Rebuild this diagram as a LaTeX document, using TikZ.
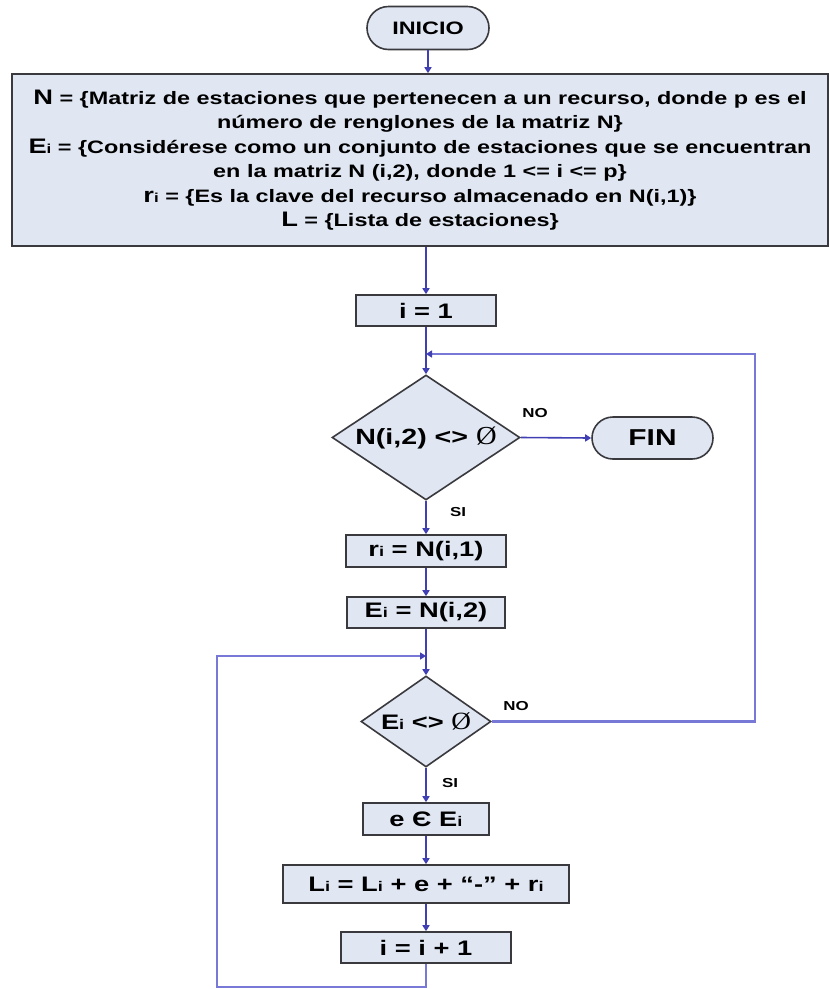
\documentclass[tikz,border=0pt]{standalone}
\usepackage{fontspec}
\setmainfont{Liberation Sans}[FakeStretch=1.3]
\newfontfamily\slashfont{Liberation Serif}[FakeStretch=1.1,Scale=1.18]
\usetikzlibrary{arrows.meta,shapes.geometric,shapes.misc}

\definecolor{boxfill}{RGB}{224,231,243}
\definecolor{edge}{RGB}{58,58,62}
\definecolor{flowc}{RGB}{64,64,180}
\definecolor{loopc}{RGB}{120,120,214}

% small index letter set on the baseline
\newcommand{\subi}[1]{{\fontsize{#1}{#1}\selectfont i}}
% enlarged leading symbol in the definitions block
\newcommand{\mayor}[1]{{\fontsize{21}{24.5}\selectfont #1}}
% empty-set sign
\newcommand{\vacio}{{\slashfont\mdseries Ø}}

\begin{document}
\begin{tikzpicture}[x=1pt,y=-1pt,
  txt/.style={font=\bfseries\fontsize{21}{24}\selectfont},
  stepbox/.style={draw=edge, line width=1.6pt, fill=boxfill, inner sep=0pt, txt},
  term/.style={rounded rectangle, draw=edge, line width=1.6pt, fill=boxfill, inner sep=0pt},
  decision/.style={diamond, draw=edge, line width=1.6pt, fill=boxfill, inner sep=1pt, txt},
  tip/.style={-{Triangle[length=6pt,width=7pt,color=flowc]}},
  flow/.style={draw=flowc, line width=1.6pt, tip},
  back/.style={draw=loopc, line width=2.2pt, tip},
  tag/.style={font=\bfseries\fontsize{13}{13}\selectfont, inner sep=0pt}]

\useasboundingbox (0,0) rectangle (830,989);
\fill[white] (0,0) rectangle (830,989);

% terminals
\node[term, minimum width=122pt, minimum height=43pt,
      font=\bfseries\fontsize{18}{18}\selectfont] (ini) at (428,28) {INICIO};
\node[term, minimum width=121pt, minimum height=42pt,
      font=\bfseries\fontsize{23}{23}\selectfont] (fin) at (652.5,438) {FIN};

% definitions block
\node[stepbox, minimum width=816pt, minimum height=172pt, align=center,
      font=\bfseries\fontsize{18}{24.5}\selectfont] (spec) at (420,160)
  {\mayor{N} = \{Matriz de estaciones que pertenecen a un recurso, donde p es el\\
   número de renglones de la matriz N\}\\
   \mayor{E}\subi{13} = \{Considérese como un conjunto de estaciones que se encuentran\\
   en la matriz N (i,2), donde 1 <= i <= p\}\\
   \mayor{r}\subi{13} = \{Es la clave del recurso almacenado en N(i,1)\}\\
   \mayor{L} = \{Lista de estaciones\}};

% process steps
\node[stepbox, minimum width=140pt, minimum height=31pt] (i1) at (426,310.5) {i = 1};
\node[stepbox, minimum width=160pt, minimum height=32pt] (rbox) at (426,551) {r\subi{14} = N(i,1)};
\node[stepbox, minimum width=158pt, minimum height=31pt] (ebox) at (426,612.5) {E\subi{14} = N(i,2)};
\node[stepbox, minimum width=126pt, minimum height=32pt] (ein) at (426,819) {e Є E\subi{14}};
\node[stepbox, minimum width=286pt, minimum height=38pt] (li) at (426,884)
  {L\subi{14} = L\subi{14} + e + “-” + r\subi{14}};
\node[stepbox, minimum width=170pt, minimum height=31pt] (inc) at (426,947.5) {i = i + 1};

% decisions
\node[decision, shape aspect=1.5, minimum width=188pt, minimum height=125pt,
      font=\bfseries\fontsize{22}{22}\selectfont] (d1) at (426,437.5) {N(i,2) <> \vacio};
\node[decision, shape aspect=1.43, minimum width=130pt, minimum height=91pt,
      font=\bfseries\fontsize{21}{21}\selectfont] (d2) at (426,721.5) {E\subi{14} <> \vacio};

% branch labels
\node[tag] (no1) at (535,413) {NO};
\node[tag] (si1) at (458,512) {SI};
\node[tag] (no2) at (516,706) {NO};
\node[tag] (si2) at (450,783) {SI};

% loop junctions and corners
\coordinate (m1) at (426,354);
\coordinate (m2) at (426,656);
\coordinate (rgt) at (755,354);
\coordinate (lbot) at (217,987);
\coordinate (ltop) at (217,656);

% main flow
\draw[flow] (ini.south) -- (ini.south |- spec.north);
\draw[flow] (i1.north |- spec.south) -- (i1.north);
\draw[flow] (i1.south) -- (d1.north);
\draw[flow] (d1.east) -- (fin.west);
\draw[flow] (d1.south) -- (rbox.north);
\draw[flow] (rbox.south) -- (ebox.north);
\draw[flow] (ebox.south) -- (d2.north);
\draw[flow] (d2.south) -- (ein.north);
\draw[flow] (ein.south) -- (li.north);
\draw[flow] (li.south) -- (inc.north);

% return paths
\draw[back] (d2.east) -- (d2.east -| rgt) -- (rgt) -- (m1);
\draw[back] (inc.south) -- (inc.south |- lbot) -- (lbot) -- (ltop) -- (m2);
\end{tikzpicture}
\end{document}
